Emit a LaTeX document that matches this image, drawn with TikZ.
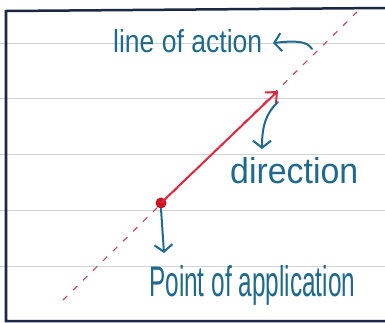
\documentclass[tikz,border=0pt]{standalone}
\usepackage{fontspec}
\setmainfont{Liberation Sans}
\usetikzlibrary{arrows.meta}
\definecolor{ink}{HTML}{1F6A8C}
\definecolor{redink}{HTML}{E2283E}
\definecolor{dotred}{HTML}{C81424}
\definecolor{dashred}{HTML}{C84458}
\definecolor{rulegray}{HTML}{D2D2D2}
\definecolor{framecol}{HTML}{1C2744}
\begin{document}
\begin{tikzpicture}[x=1bp,y=-1bp,
  lbl/.style={text=ink, inner sep=0pt},
  inkline/.style={draw=ink, line width=2bp, line cap=round},
  inkhead/.style={-{Straight Barb[length=7bp,width=18bp,line width=2bp]}}]
\useasboundingbox (0,0) rectangle (385,323);
\fill[white] (0,0) rectangle (385,323);
\foreach \y in {43,98,154,210,266} \draw[rulegray, line width=0.8bp] (0,\y) -- (385,\y);
\draw[framecol, line width=2.5bp] (385,8) -- (6,11) -- (6,321) -- (385,321);
% line of action
\coordinate (lo) at (63,300);
\coordinate (hi) at (357,12);
\draw[dashred, line width=1.1bp, dash pattern=on 6bp off 8bp] (lo) -- (hi);
% force
\node[circle, fill=dotred, inner sep=0pt, minimum size=11bp] (P) at (161,203) {};
\coordinate (T) at (278,91);
\draw[redink, line width=2bp, -{Straight Barb[length=9bp,width=16bp,line width=2bp]}] (P.center) -- (T);
% labels
\node[lbl, anchor=base west] (loa) at (113,52) {\resizebox{149bp}{23bp}{line of action}};
\node[lbl, anchor=base west] (dir) at (230,183) {\resizebox{128bp}{26bp}{direction}};
\node[lbl, anchor=base west] (poa) at (149,296) {\resizebox{206bp}{31bp}{Point of application}};
% annotation arrows
\coordinate (loatail) at (312,49);
\coordinate (loahead) at (273,43);
\draw[inkline, inkhead] (loatail) .. controls (307,40) and (292,41) .. (loahead);
\coordinate (dirtail) at (278,102);
\coordinate (dirhead) at (262,149);
\draw[inkline, inkhead] (dirtail) .. controls (265,114) and (262,128) .. (dirhead);
\coordinate (poahead) at (164,253);
\draw[inkline, inkhead] (P.south) -- (poahead);
\end{tikzpicture}
\end{document}
